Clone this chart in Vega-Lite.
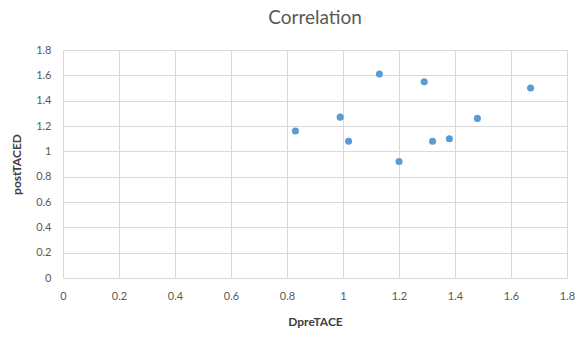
{
  "$schema": "https://vega.github.io/schema/vega-lite/v6.json",
  "width": 504,
  "height": 228,
  "autosize": {"type": "none"},
  "padding": {"left": 63, "top": 50, "right": 9, "bottom": 60},
  "background": "white",
  "title": {
    "text": "Correlation",
    "font": "Lato",
    "fontSize": 19,
    "fontWeight": "normal",
    "color": "#595959",
    "anchor": "middle",
    "offset": 16
  },
  "config": {
    "view": {"stroke": null},
    "axis": {
      "labelFont": "Lato",
      "titleFont": "Lato",
      "labelColor": "#595959",
      "titleColor": "#404040",
      "labelFontSize": 11,
      "titleFontSize": 12,
      "titleFontWeight": "bold",
      "gridColor": "#d9d9d9",
      "gridWidth": 1,
      "domain": false,
      "ticks": false,
      "format": "~g"
    }
  },
  "data": {
    "values": [
      {"DpreTACE": 0.83, "postTACED": 1.16},
      {"DpreTACE": 0.99, "postTACED": 1.27},
      {"DpreTACE": 1.02, "postTACED": 1.08},
      {"DpreTACE": 1.13, "postTACED": 1.61},
      {"DpreTACE": 1.2, "postTACED": 0.92},
      {"DpreTACE": 1.29, "postTACED": 1.55},
      {"DpreTACE": 1.32, "postTACED": 1.08},
      {"DpreTACE": 1.38, "postTACED": 1.1},
      {"DpreTACE": 1.48, "postTACED": 1.26},
      {"DpreTACE": 1.67, "postTACED": 1.5}
    ]
  },
  "mark": {"type": "circle", "size": 50, "color": "#5b9bd5", "opacity": 1},
  "encoding": {
    "x": {
      "field": "DpreTACE",
      "type": "quantitative",
      "scale": {"domain": [0, 1.8], "nice": false},
      "axis": {
        "title": "DpreTACE",
        "values": [0, 0.2, 0.4, 0.6, 0.8, 1, 1.2, 1.4, 1.6, 1.8],
        "labelPadding": 12,
        "titlePadding": 15,
        "labelFlush": false
      }
    },
    "y": {
      "field": "postTACED",
      "type": "quantitative",
      "scale": {"domain": [0, 1.8], "nice": false},
      "axis": {
        "title": "postTACED",
        "values": [0, 0.2, 0.4, 0.6, 0.8, 1, 1.2, 1.4, 1.6, 1.8],
        "labelPadding": 12,
        "titlePadding": 12,
        "labelFlush": false
      }
    }
  }
}
